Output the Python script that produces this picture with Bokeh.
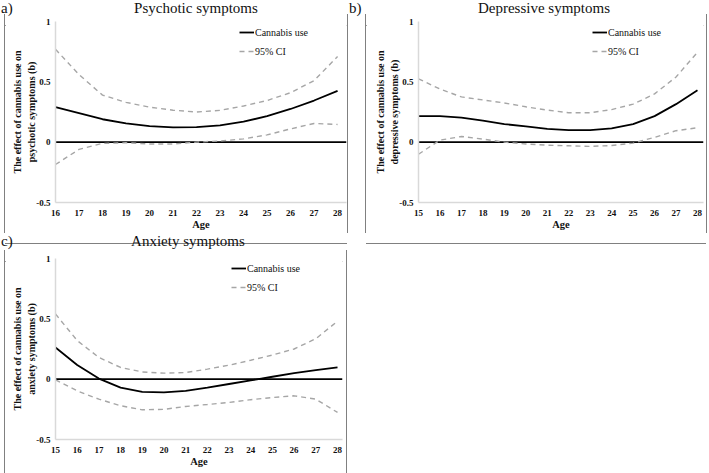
from bokeh.plotting import figure
from bokeh.models import Span, Legend, LegendItem, FixedTicker, Range1d, Spacer, Div, Title
from bokeh.layouts import column, row
from bokeh.embed import file_html
from bokeh.resources import INLINE

# ---------------- data ----------------
ages_psy = [16, 17, 18, 19, 20, 21, 22, 23, 24, 25, 26, 27, 28]
psy_est = [0.29, 0.24, 0.19, 0.155, 0.133, 0.122, 0.125, 0.14, 0.17, 0.215, 0.275, 0.345, 0.425]
psy_upper = [0.77, 0.56, 0.39, 0.33, 0.29, 0.265, 0.25, 0.264, 0.30, 0.345, 0.41, 0.51, 0.71]
psy_lower = [-0.185, -0.06, -0.01, -0.005, -0.015, -0.015, 0.0, 0.01, 0.027, 0.06, 0.11, 0.155, 0.147]

ages_dep = [15, 16, 17, 18, 19, 20, 21, 22, 23, 24, 25, 26, 27, 28]
dep_est = [0.216, 0.216, 0.203, 0.178, 0.15, 0.13, 0.11, 0.1, 0.1, 0.115, 0.15, 0.216, 0.315, 0.43]
dep_upper = [0.525, 0.44, 0.375, 0.35, 0.325, 0.293, 0.266, 0.244, 0.244, 0.27, 0.315, 0.4, 0.54, 0.745]
dep_lower = [-0.1, 0.017, 0.047, 0.025, 0.0, -0.015, -0.025, -0.03, -0.035, -0.028, -0.008, 0.04, 0.095, 0.12]

ages_anx = [15, 16, 17, 18, 19, 20, 21, 22, 23, 24, 25, 26, 27, 28]
anx_est = [0.262, 0.118, 0.005, -0.07, -0.105, -0.11, -0.097, -0.07, -0.04, -0.01, 0.02, 0.05, 0.075, 0.097]
anx_upper = [0.54, 0.32, 0.18, 0.097, 0.06, 0.05, 0.055, 0.083, 0.116, 0.157, 0.2, 0.25, 0.335, 0.48]
anx_lower = [-0.005, -0.097, -0.166, -0.22, -0.254, -0.25, -0.226, -0.21, -0.193, -0.17, -0.152, -0.138, -0.166, -0.276]

y_ticks = [-0.5, 0, 0.5, 1]
y_tick_labels = ["-0.5", "0", "0.5", "1"]

legend_labels = ["Cannabis use", "95% CI"]
panel_letters = ["a)", "b)", "c)"]
panel_titles = ["Psychotic symptoms", "Depressive symptoms", "Anxiety symptoms"]
y_label_line1 = "The effect of cannabis use on"
y_label_line2 = ["psychotic symptoms (b)", "depressive symptoms (b)", "anxiety symptoms (b)"]
x_label = "Age"

SERIF = "Liberation Serif"
CI_COLOR = "#a6a6a6"
AXIS_COLOR = "#d9d9d9"
BOX_COLOR = "#808080"
TEXT_COLOR = "#111111"


def vline(h):
    return Div(text=f'<div style="width:1px;height:{h}px;background:{BOX_COLOR};"></div>',
               width=1, height=h, margin=0)


def hline(w):
    return Div(text=f'<div style="width:{w}px;height:1px;background:{BOX_COLOR};"></div>',
               width=w, height=1, margin=0)


SPAN_CSS = ("position:absolute;font-family:'Liberation Serif';font-size:15px;line-height:17px;"
            f"color:{TEXT_COLOR};white-space:nowrap;")


def heading(h, items):
    parts = [f'<div style="position:relative;width:709px;height:{h}px;">']
    for text, left, top, width in items:
        extra = f"width:{width}px;text-align:center;" if width else ""
        parts.append(f'<span style="{SPAN_CSS}left:{left}px;top:{top}px;{extra}">{text}</span>')
    parts.append("</div>")
    return Div(text="".join(parts), width=709, height=h, margin=0)


def make_panel(ages, est, up, lo, line2, w, h, borders, x_pad, leg_xy):
    p = figure(
        width=w, height=h,
        x_range=Range1d(ages[0], ages[-1] + x_pad),
        y_range=Range1d(y_ticks[0], y_ticks[-1]),
        output_backend="svg", toolbar_location=None,
        min_border_left=borders[0], min_border_right=borders[1],
        min_border_top=borders[2], min_border_bottom=borders[3],
    )
    p.outline_line_color = None
    p.background_fill_color = "white"
    p.border_fill_color = "white"
    p.xgrid.grid_line_color = None
    p.ygrid.grid_line_color = None

    zero = Span(location=0, dimension="width", line_color="black", line_width=1.6, level="underlay")
    p.add_layout(zero)

    r_up = p.line(ages, up, line_color=CI_COLOR, line_width=1.4, line_dash="5 4")
    p.line(ages, lo, line_color=CI_COLOR, line_width=1.4, line_dash="5 4")
    r_est = p.line(ages, est, line_color="black", line_width=1.8)

    for ax in (p.xaxis[0], p.yaxis[0]):
        ax.axis_line_color = AXIS_COLOR
        ax.axis_line_width = 1.5
        ax.major_tick_line_color = None
        ax.minor_tick_line_color = None
        ax.major_tick_out = 0
        ax.major_tick_in = 0
        ax.major_label_text_font = SERIF
        ax.major_label_text_font_style = "bold"
        ax.major_label_text_font_size = "9px"
        ax.major_label_text_color = TEXT_COLOR
        ax.axis_label_text_font = SERIF
        ax.axis_label_text_font_style = "bold"
        ax.axis_label_text_color = TEXT_COLOR

    p.xaxis.ticker = FixedTicker(ticks=ages)
    p.xaxis.axis_label = x_label
    p.xaxis.axis_label_text_font_size = "10.5px"
    p.xaxis.major_label_standoff = 7
    p.xaxis.axis_label_standoff = 0

    p.yaxis.ticker = FixedTicker(ticks=y_ticks)
    p.yaxis.major_label_overrides = {t: s for t, s in zip(y_ticks, y_tick_labels)}
    p.yaxis.major_label_standoff = 5

    # two-line y-axis title, stacked outward from the axis
    for text, standoff in ((line2, -6), (y_label_line1, 8)):
        p.add_layout(Title(text=text, align="center", standoff=standoff, offset=0,
                           text_font=SERIF, text_font_style="bold", text_font_size="10px",
                           text_color=TEXT_COLOR), "left")

    legend = Legend(
        items=[LegendItem(label=legend_labels[0], renderers=[r_est]),
               LegendItem(label=legend_labels[1], renderers=[r_up])],
        location=leg_xy,
        border_line_color=None, background_fill_alpha=0,
        padding=0, margin=0, spacing=5,
        glyph_width=15, glyph_height=14, label_height=14, label_standoff=1,
        label_text_font=SERIF, label_text_font_size="10px", label_text_color=TEXT_COLOR,
    )
    p.add_layout(legend)
    return p


# ---- row 1: headings (y 0..14)
head1 = heading(14, [
    (panel_letters[0], 1, 0, None),
    (panel_titles[0], 46, 0, 300),
    (panel_letters[1], 349, 0, None),
    (panel_titles[1], 394, 0, 300),
])

# ---- row 2: boxed panels a and b (y 14..233)
p_a = make_panel(ages_psy, psy_est, psy_upper, psy_lower, y_label_line2[0],
                 342, 217, (48, 1, 6, 28), 0.38, (184, 144))
p_b = make_panel(ages_dep, dep_est, dep_upper, dep_lower, y_label_line2[1],
                 340, 217, (52, 3, 6, 29), 0.28, (174, 144))

box_a = row(vline(219), column(hline(342), p_a, hline(342), spacing=0), vline(219), spacing=0)
box_b = row(vline(219), column(hline(340), p_b, hline(340), spacing=0), vline(219), spacing=0)
row2 = row(Spacer(width=4, height=219), box_a, Spacer(width=17, height=219), box_b,
           Spacer(width=2, height=219), spacing=0)

# ---- row 3: heading c (y 233..250)
head2 = heading(17, [
    (panel_letters[2], 1, 0, None),
    (panel_titles[2], 38, 0, 300),
])

# ---- row 4: boxed panel c (y 250..473); its lower edge lies outside the picture
p_c = make_panel(ages_anx, anx_est, anx_upper, anx_lower, y_label_line2[2],
                 341, 222, (49, 4, 7, 34), 0.23, (176, 145))
box_c = row(vline(223), column(hline(341), p_c, spacing=0), vline(223), spacing=0)
row4 = row(Spacer(width=4, height=223), box_c, Spacer(width=362, height=223), spacing=0)

layout = column(head1, row2, head2, row4, spacing=0)

open("out.html", "w").write(file_html(layout, INLINE))
